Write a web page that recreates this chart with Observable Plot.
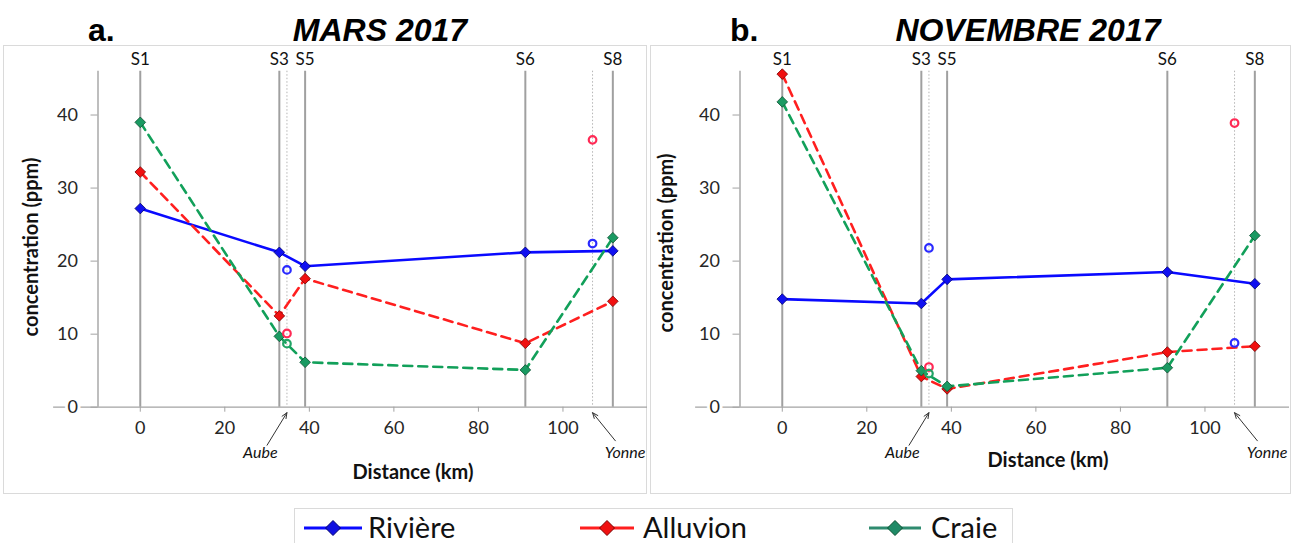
<!DOCTYPE html>
<html>
<head>
<meta charset="utf-8">
<script src="https://cdn.jsdelivr.net/npm/d3@7"></script>
<script src="https://cdn.jsdelivr.net/npm/@observablehq/plot@0.6"></script>
<style>
  html, body { margin: 0; padding: 0; background: #fff; }
  #root { position: relative; width: 1293px; height: 543px; overflow: hidden; font-family: Lato, "Open Sans", sans-serif; }
  #back { position: absolute; left: 0; top: 0; }
  .panel { position: absolute; top: 0; }
  .panel svg { overflow: visible; max-width: none; }
</style>
</head>
<body>
<div id="root">
  <svg id="back" width="1293" height="543"></svg>
  <div id="pa" class="panel" style="left:0px"></div>
  <div id="pb" class="panel" style="left:642px"></div>
</div>
<script>
// ---------- data ----------
const stations = ["S1", "S3", "S5", "S6", "S8"];
const stationKm = [0, 32.9, 39, 91.1, 111.8];
const tributaries = ["Aube", "Yonne"];
const tributaryKm = [34.7, 107];
const xTicks = [0, 20, 40, 60, 80, 100];
const yTicks = [0, 10, 20, 30, 40];
const seriesNames = ["Rivière", "Alluvion", "Craie"];
const panelTitles = ["MARS 2017", "NOVEMBRE 2017"];
const panelLetters = ["a.", "b."];

// MARS 2017 (stations S1,S3,S5,S6,S8)
const mars_riviere  = [27.2, 21.2, 19.3, 21.2, 21.4];
const mars_alluvion = [32.2, 12.5, 17.6, 8.75, 14.5];
const mars_craie    = [39.0, 9.7, 6.15, 5.1, 23.2];
// MARS 2017 tributaries (Aube, Yonne)
const mars_trib_riviere  = [18.8, 22.4];
const mars_trib_alluvion = [10.1, 36.6];
const mars_trib_craie    = [8.7, null];

// NOVEMBRE 2017
const nov_riviere  = [14.8, 14.2, 17.5, 18.5, 16.9];
const nov_alluvion = [45.6, 4.2, 2.5, 7.55, 8.35];
const nov_craie    = [41.8, 5.0, 2.85, 5.4, 23.5];
const nov_trib_riviere  = [21.8, 8.8];
const nov_trib_alluvion = [5.5, 38.9];
const nov_trib_craie    = [4.6, null];

// ---------- styles ----------
const lineColor = {"Rivière": "#0a0aff", "Alluvion": "#ff1f1f", "Craie": "#12a05a"};
const markFill = {"Rivière": "#1010f0", "Alluvion": "#f01010", "Craie": "#1a9a62"};
const markStroke = {"Rivière": "#000070", "Alluvion": "#7a0000", "Craie": "#0b4f30"};
const circleColor = {"Rivière": "#2a2aff", "Alluvion": "#ff2a55", "Craie": "#22a466"};
const dash = {"Rivière": null, "Alluvion": "9,6", "Craie": "9,6"};
const legendLine = {"Rivière": "#0a0aff", "Alluvion": "#ff1f1f", "Craie": "#2e8b6f"};
const legendFill = {"Rivière": "#1010e0", "Alluvion": "#f01010", "Craie": "#1f8a66"};

const gridGray = "#a3a3a3";
const Y_AXIS_KM = -10;

function buildPanel(vals, tribVals) {
  const pts = [];
  seriesNames.forEach((s, j) => stations.forEach((st, i) => pts.push({s, km: stationKm[i], v: vals[j][i]})));
  const circ = [];
  seriesNames.forEach((s, j) => tributaries.forEach((t, i) => {
    if (tribVals[j][i] != null) circ.push({s, km: tributaryKm[i], v: tribVals[j][i]});
  }));
  const tribs = tributaries.map((name, i) => ({name, km: tributaryKm[i], side: i === 0 ? -1 : 1}));
  const st = stations.map((name, i) => ({name, km: stationKm[i]}));

  const lineMarks = seriesNames.map(s => Plot.line(pts.filter(d => d.s === s), {
    x: "km", y: "v", stroke: lineColor[s], strokeWidth: 2.6, strokeDasharray: dash[s]
  }));
  const dotMarks = seriesNames.map(s => Plot.dot(pts.filter(d => d.s === s), {
    x: "km", y: "v", symbol: "diamond2", r: 4.8, fill: markFill[s], stroke: markStroke[s], strokeWidth: 0.8
  }));
  const circMarks = seriesNames.map(s => Plot.dot(circ.filter(d => d.s === s), {
    x: "km", y: "v", r: 3.8, fill: "none", stroke: circleColor[s], strokeWidth: 2.2
  }));

  return Plot.plot({
    width: 647,
    height: 500,
    marginLeft: 97.5,
    marginRight: 0,
    marginTop: 70.7,
    marginBottom: 93.3,
    x: {domain: [-10, 120]},
    y: {domain: [0, 46]},
    style: {fontFamily: "Lato, 'Open Sans', sans-serif", fontSize: "18px", color: "#222", background: "transparent", overflow: "visible"},
    marks: [
      Plot.ruleY([0], {x1: -20.5, x2: 120, stroke: gridGray, strokeWidth: 1.3}),
      Plot.ruleX([Y_AXIS_KM], {stroke: gridGray, strokeWidth: 1.4}),
      Plot.ruleX(tribs, {x: "km", stroke: "#b5b5b5", strokeWidth: 1, strokeDasharray: "1.5,2"}),
      Plot.ruleX(st, {x: "km", stroke: "#a0a0a0", strokeWidth: 2}),
      Plot.text(st, {x: "km", text: "name", frameAnchor: "top", lineAnchor: "bottom", dy: -6.5, fontSize: 17, fill: "#111"}),
      Plot.axisX({ticks: xTicks, tickSize: 5, tickPadding: 9, fontSize: 18, label: null, stroke: gridGray, fill: "#262626"}),
      Plot.axisY({ticks: yTicks, tickSize: 7, tickPadding: 13, fontSize: 18, label: null, stroke: gridGray, fill: "#262626", textStroke: "white", textStrokeWidth: 6}),
      ...lineMarks,
      ...dotMarks,
      ...circMarks,
      Plot.arrow(tribs, {
        x1: d => d.km + (d.side < 0 ? -4.7 : 5.4),
        y1: d => (d.side < 0 ? -5.2 : -4.6),
        x2: "km", y2: -0.75,
        stroke: "#333", strokeWidth: 1, headLength: 9, headAngle: 45
      }),
      Plot.text(tribs, {
        x: d => d.km + (d.side < 0 ? -6.3 : 7.7),
        text: "name", frameAnchor: "bottom", lineAnchor: "bottom", dy: 51,
        fontStyle: "italic", fontSize: 16, fill: "#111"
      })
    ]
  });
}

document.getElementById("pa").appendChild(buildPanel([mars_riviere, mars_alluvion, mars_craie], [mars_trib_riviere, mars_trib_alluvion, mars_trib_craie]));
document.getElementById("pb").appendChild(buildPanel([nov_riviere, nov_alluvion, nov_craie], [nov_trib_riviere, nov_trib_alluvion, nov_trib_craie]));

// ---------- frames, titles, axis labels, legend ----------
const back = d3.select("#back");
back.append("rect").attr("x", 3.5).attr("y", 45.5).attr("width", 643).attr("height", 448).attr("fill", "none").attr("stroke", "#dadada");
back.append("rect").attr("x", 650.5).attr("y", 45.5).attr("width", 640).attr("height", 448).attr("fill", "none").attr("stroke", "#dadada");

const titleFont = "'Liberation Sans', Arial, sans-serif";
[[88, 380], [730, 1028]].forEach(([lx, cx], i) => {
  back.append("text").attr("x", lx).attr("y", 41).text(panelLetters[i])
    .attr("font-family", titleFont).attr("font-weight", "bold").attr("font-size", 32).attr("fill", "#000");
  back.append("text").attr("x", cx).attr("y", 41).attr("text-anchor", "middle").text(panelTitles[i])
    .attr("font-family", titleFont).attr("font-weight", "bold").attr("font-style", "italic").attr("font-size", 32).attr("fill", "#000");
});

[[38, 247, 413, 479], [673, 243, 1048, 467]].forEach(([yx, yy, xx, xy]) => {
  back.append("text").attr("transform", `translate(${yx},${yy}) rotate(-90)`).attr("text-anchor", "middle")
    .text("concentration (ppm)").attr("font-family", "Lato, sans-serif").attr("font-weight", "bold").attr("font-size", 20).attr("fill", "#111");
  back.append("text").attr("x", xx).attr("y", xy).attr("text-anchor", "middle")
    .text("Distance (km)").attr("font-family", "Lato, sans-serif").attr("font-weight", "bold").attr("font-size", 20).attr("fill", "#111");
});

back.append("rect").attr("x", 294.5).attr("y", 508.5).attr("width", 718).attr("height", 50).attr("fill", "#fff").attr("stroke", "#dadada");
const legendPos = [[304, 362, 368], [580, 634, 643], [869, 921, 931]];
seriesNames.forEach((s, i) => {
  const [x1, x2, tx] = legendPos[i];
  const cx = (x1 + x2) / 2, cy = 528;
  back.append("line").attr("x1", x1).attr("x2", x2).attr("y1", cy).attr("y2", cy).attr("stroke", legendLine[s]).attr("stroke-width", 3);
  const h = 7.5;
  back.append("polygon").attr("points", `${cx},${cy - h} ${cx + h},${cy} ${cx},${cy + h} ${cx - h},${cy}`)
    .attr("fill", legendFill[s]).attr("stroke", markStroke[s]).attr("stroke-width", 1);
  back.append("text").attr("x", tx).attr("y", 538).text(s)
    .attr("font-family", "Lato, sans-serif").attr("font-size", 29).attr("fill", "#111");
});
</script>
</body>
</html>
